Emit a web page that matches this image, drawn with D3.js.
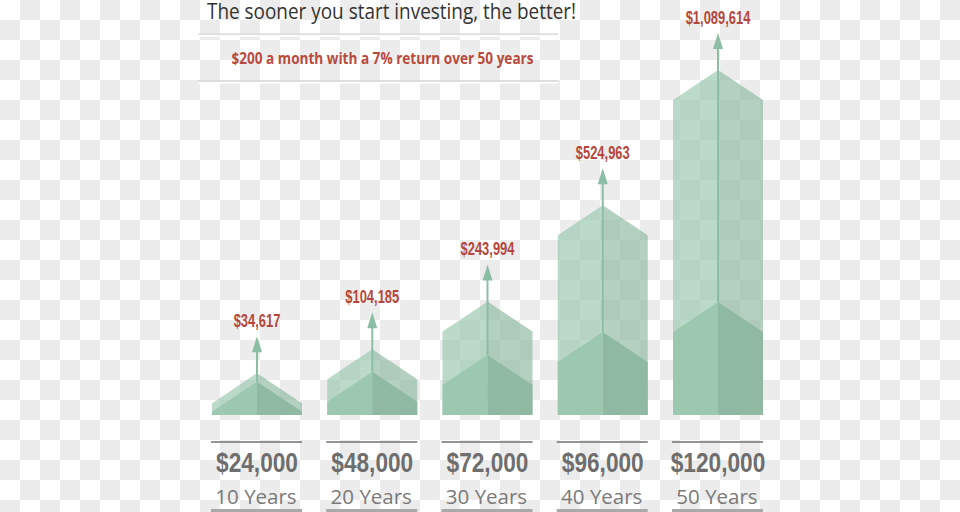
<!DOCTYPE html>
<html><head><meta charset="utf-8">
<script src="https://cdnjs.cloudflare.com/ajax/libs/d3/7.8.5/d3.min.js"></script>
<style>html,body{margin:0;padding:0;background:#fff;}svg{display:block;}</style>
</head><body>
<svg id="chart" width="960" height="512"></svg>
<script>
// ---- data ----
const years = ["10 Years", "20 Years", "30 Years", "40 Years", "50 Years"];
const contributions = [24000, 48000, 72000, 96000, 120000];
const totals = [34617, 104185, 243994, 524963, 1089614];
const title = "The sooner you start investing, the better!";
const subtitle = "$200 a month with a 7% return over 50 years";

const W = 960, H = 512;
const svg = d3.select("#chart");
const fmt = d3.format("$,");

// checkerboard background
const cell = 20;
const cols = d3.range(Math.ceil(W / cell)), rows = d3.range(Math.ceil(H / cell));
const cells = [];
rows.forEach(r => cols.forEach(c => { if ((r + c) % 2 === 1) cells.push([c, r]); }));
svg.append("g").selectAll("rect").data(cells).join("rect")
  .attr("x", d => d[0] * cell).attr("y", d => d[1] * cell)
  .attr("width", cell).attr("height", cell).attr("fill", "#ececec");

// scales
const baseY = 415, halfW = 45, tipRise = 30;
const x = d3.scalePoint().domain(years).range([257, 718]);
// total value: linear, clamped at the top of the drawing area
const backH = d3.scaleLinear().domain([0, 920000]).range([0, 315]).clamp(true);
// contributions shape
const frontH = d3.scalePow().exponent(2).domain([0, d3.max(contributions)]).range([0, 83]);

const data = years.map((y, i) => ({ year: y, contrib: contributions[i], total: totals[i] }));

const halfPoly = (cx, sh, side) => {
  const ex = cx + side * halfW;
  return [[ex, baseY], [ex, baseY - sh], [cx, baseY - sh - tipRise], [cx, baseY]];
};
const line = d3.line();

const g = svg.append("g").selectAll("g").data(data).join("g");

// back (total value) shape, translucent
g.append("path").attr("d", d => line(halfPoly(x(d.year), backH(d.total), -1)) + "Z")
  .attr("fill", "#9bc8b0").attr("fill-opacity", 0.67);
g.append("path").attr("d", d => line(halfPoly(x(d.year), backH(d.total), 1)) + "Z")
  .attr("fill", "#8fb9a1").attr("fill-opacity", 0.67);

// arrow
const arrowLen = 37;
const headTop = d => baseY - backH(d.total) - tipRise - arrowLen;
g.append("line")
  .attr("x1", d => x(d.year)).attr("x2", d => x(d.year))
  .attr("y1", d => baseY - frontH(d.contrib) - tipRise)
  .attr("y2", d => headTop(d) + 10)
  .attr("stroke", "#8cbea4").attr("stroke-width", 2);

// front (contributions) shape
g.append("path").attr("d", d => line(halfPoly(x(d.year), frontH(d.contrib), -1)) + "Z")
  .attr("fill", "#9cc8b0");
g.append("path").attr("d", d => line(halfPoly(x(d.year), frontH(d.contrib), 1)) + "Z")
  .attr("fill", "#8fb9a1");

// arrow head
g.append("path").attr("d", d => {
  const cx = x(d.year), top = headTop(d);
  return line([[cx, top], [cx + 5, top + 16], [cx - 5, top + 16]]) + "Z";
}).attr("fill", "#8cbea4");

// value labels
g.append("text")
  .attr("transform", d => `translate(${x(d.year)},${headTop(d) - 9.5}) scale(0.68,1)`)
  .attr("text-anchor", "middle")
  .attr("font-family", "Liberation Sans, Arial, sans-serif").attr("font-weight", "bold")
  .attr("font-size", 19).attr("fill", "#b5473c")
  .text(d => fmt(d.total));

// bottom labels
g.append("line")
  .attr("x1", d => x(d.year) - halfW - 1).attr("x2", d => x(d.year) + halfW)
  .attr("y1", 442).attr("y2", 442).attr("stroke", "#707070").attr("stroke-width", 1.3);
g.append("text")
  .attr("transform", d => `translate(${x(d.year)},471.7) scale(0.84,1)`)
  .attr("text-anchor", "middle")
  .attr("font-family", "Liberation Sans, Arial, sans-serif").attr("font-weight", "bold")
  .attr("font-size", 27).attr("fill", "#6e6e6e")
  .text(d => fmt(d.contrib));
g.append("text")
  .attr("x", d => x(d.year) - 1).attr("y", 503.5)
  .attr("text-anchor", "middle")
  .attr("font-family", "Open Sans, sans-serif").attr("font-size", 20.5).attr("fill", "#7a7a7a")
  .text(d => d.year);
g.append("rect")
  .attr("x", d => x(d.year) - halfW - 1).attr("width", 2 * halfW + 1)
  .attr("y", 509).attr("height", 3).attr("fill", "#a9a9a9");

// title & subtitle
svg.append("text").attr("x", 207).attr("y", 18.8)
  .attr("font-family", "Open Sans, sans-serif").attr("font-size", 22).attr("fill", "#333")
  .attr("textLength", 369).attr("lengthAdjust", "spacingAndGlyphs")
  .text(title);
[34.3, 81].forEach(yy => {
  svg.append("line").attr("x1", 198).attr("x2", 558).attr("y1", yy).attr("y2", yy)
    .attr("stroke", "#dedede").attr("stroke-width", 2);
  svg.append("line").attr("x1", 198).attr("x2", 558).attr("y1", yy + 1.8).attr("y2", yy + 1.8)
    .attr("stroke", "#ffffff").attr("stroke-width", 1.5);
});
svg.append("text").attr("x", 382.5).attr("y", 63.8).attr("text-anchor", "middle")
  .attr("font-family", "Open Sans, sans-serif").attr("font-weight", 700).attr("font-size", 16)
  .attr("fill", "#b94a3e")
  .attr("textLength", 302).attr("lengthAdjust", "spacingAndGlyphs")
  .text(subtitle);
</script>
</body></html>
